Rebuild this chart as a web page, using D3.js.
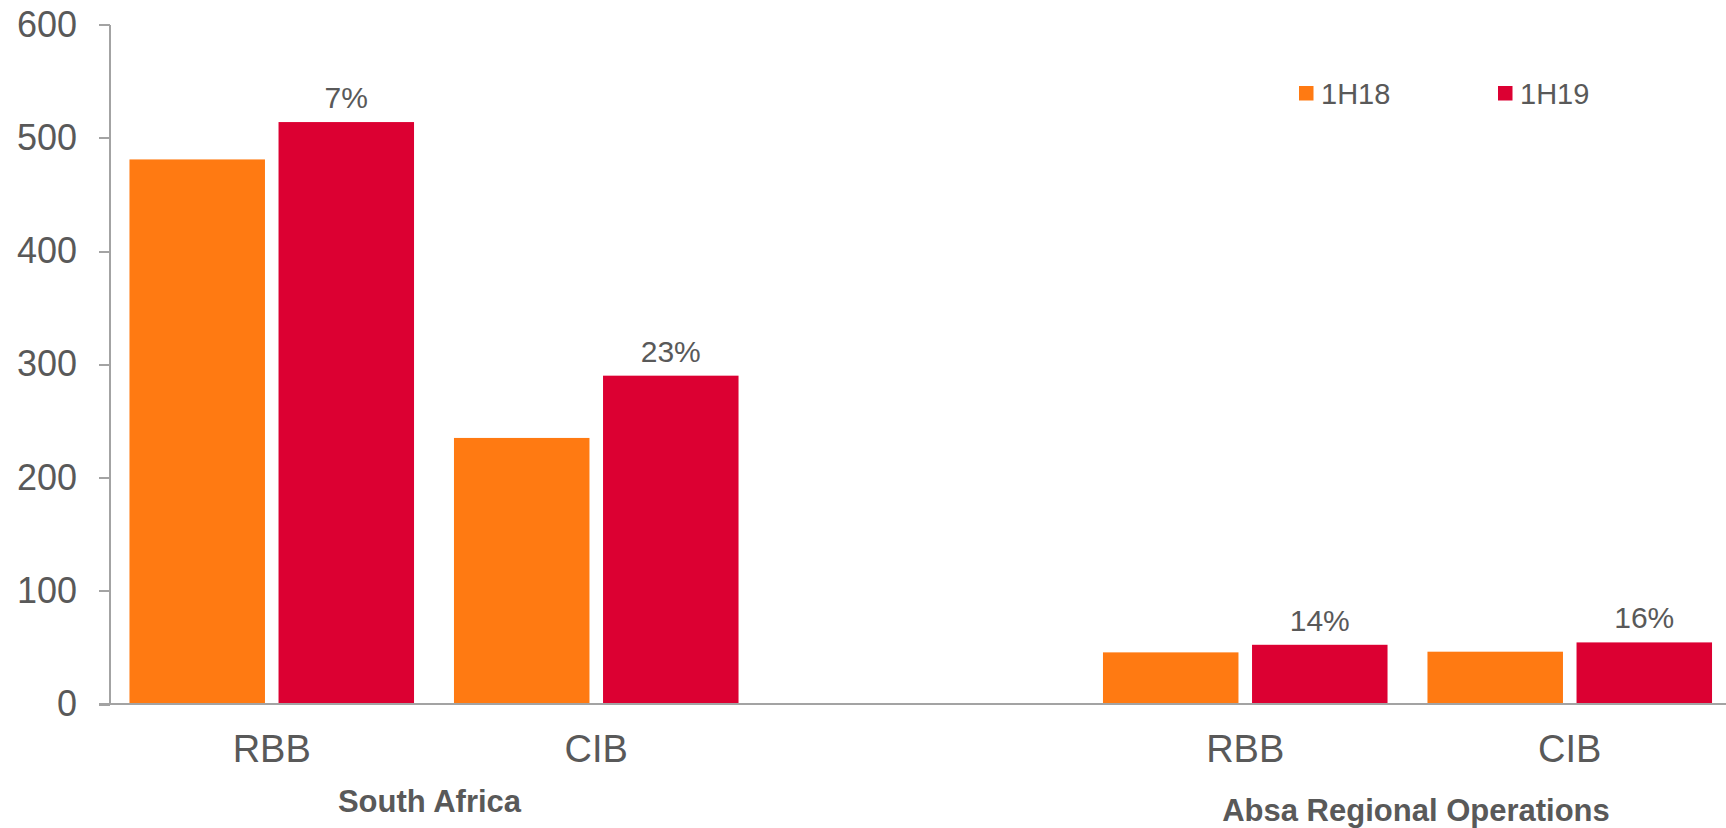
<!DOCTYPE html>
<html lang="en">
<head>
<meta charset="UTF-8"/>
<title>RBB / CIB 1H18 vs 1H19</title>
<script src="https://d3js.org/d3.v7.min.js"></script>
<style>
  body { margin: 0; background: #fff; }
  text { font-family: Arial, "Liberation Sans", sans-serif; fill: #595959; }
  .axis path, .axis line { stroke: #a3a3a3; stroke-width: 2px; shape-rendering: crispEdges; }
</style>
</head>
<body>
<div id="chart"></div>
<script>
// data
var slots = ["SA-RBB", "SA-CIB", "gap", "ARO-RBB", "ARO-CIB"]
var slotLabels = ["RBB", "CIB", "", "RBB", "CIB"]
var series = ["1H18", "1H19"]
var values1H18 = [481, 235, null, 45.6, 46.2]
var values1H19 = [514, 290, null, 52.3, 54.4]
var growth = ["7%", "23%", null, "14%", "16%"]
var groupNames = ["South Africa", "Absa Regional Operations"]
var groupSlots = [["SA-RBB", "SA-CIB"], ["ARO-RBB", "ARO-CIB"]]
var yTicks = [0, 100, 200, 300, 400, 500, 600]

var width = 1726,
    height = 828

var svg = d3.select("#chart")
  .append("svg")
    .attr("width", width)
    .attr("height", height)

var x = d3.scaleBand()
  .domain(slots)
  .range([109.5, 1732])

var xSub = d3.scaleBand()
  .domain(series)
  .range([0, x.bandwidth()])
  .paddingInner(0.091)
  .paddingOuter(0.134)

var y = d3.scaleLinear()
  .domain([0, 600])
  .range([704, 24.7])

var color = d3.scaleOrdinal()
  .domain(series)
  .range(["#ff7a12", "#dc0032"])

// y axis
var yAxis = svg.append("g")
  .attr("class", "axis")
  .attr("transform", "translate(109.5,0)")
  .call(d3.axisLeft(y).tickValues(yTicks).tickSize(10.5).tickPadding(22).tickSizeOuter(0))
yAxis.selectAll("text").style("font-size", "36px").style("fill", "#595959")

// bars
var rows = slots.map(function(s, i) {
  return { slot: s, label: slotLabels[i], "1H18": values1H18[i], "1H19": values1H19[i], growth: growth[i] }
}).filter(function(d) { return d["1H18"] != null })

var g = svg.selectAll("g.slot")
  .data(rows)
  .enter()
  .append("g")
    .attr("class", "slot")
    .attr("transform", function(d) { return "translate(" + x(d.slot) + ",0)" })

g.selectAll("rect")
  .data(function(d) { return series.map(function(k) { return { key: k, value: d[k] } }) })
  .enter()
  .append("rect")
    .attr("x", function(d) { return xSub(d.key) })
    .attr("width", xSub.bandwidth())
    .attr("y", function(d) { return y(d.value) })
    .attr("height", function(d) { return y(0) - y(d.value) })
    .attr("fill", function(d) { return color(d.key) })

// growth labels over the 1H19 bar
g.append("text")
  .attr("x", xSub("1H19") + xSub.bandwidth() / 2)
  .attr("y", function(d) { return y(d["1H19"]) - 14 })
  .attr("text-anchor", "middle")
  .style("font-size", "30px")
  .text(function(d) { return d.growth })

// x axis line (drawn over bar bottoms)
svg.append("line")
  .attr("x1", 99).attr("x2", width)
  .attr("y1", y(0)).attr("y2", y(0))
  .style("stroke", "#a3a3a3").style("stroke-width", "2px")
  .style("shape-rendering", "crispEdges")

// category labels
g.append("text")
  .attr("x", x.bandwidth() / 2)
  .attr("y", 762)
  .attr("text-anchor", "middle")
  .style("font-size", "38px")
  .text(function(d) { return d.label })

// group labels
var nudge = [{ dx: -4.5, y: 812 }, { dx: 8.5, y: 821 }]
svg.selectAll("text.group")
  .data(groupNames)
  .enter()
  .append("text")
    .attr("class", "group")
    .attr("x", function(d, i) {
      var a = x(groupSlots[i][0]), b = x(groupSlots[i][1]) + x.bandwidth()
      return (a + b) / 2 + nudge[i].dx
    })
    .attr("y", function(d, i) { return nudge[i].y })
    .attr("text-anchor", "middle")
    .style("font-size", "31px")
    .style("font-weight", "bold")
    .text(function(d) { return d })

// legend
var legend = svg.selectAll("g.legend")
  .data(series)
  .enter()
  .append("g")
    .attr("class", "legend")
    .attr("transform", function(d, i) { return "translate(" + (1299 + i * 199) + ",86)" })

legend.append("rect")
  .attr("width", 14.5)
  .attr("height", 14.5)
  .attr("fill", function(d) { return color(d) })

legend.append("text")
  .attr("x", 22)
  .attr("y", 17.5)
  .style("font-size", "29px")
  .text(function(d) { return d })
</script>
</body>
</html>
